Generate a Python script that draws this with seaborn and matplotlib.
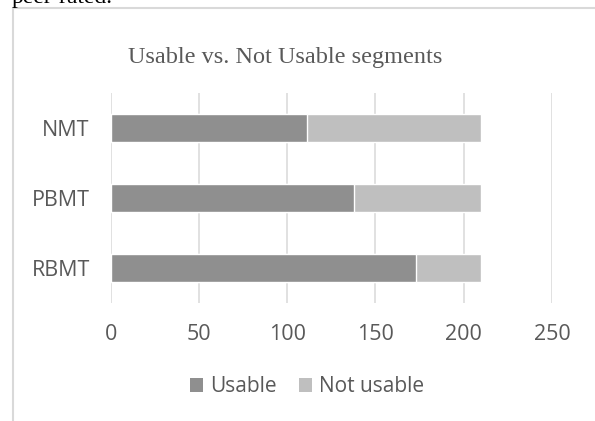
import matplotlib
matplotlib.use("Agg")
import matplotlib.pyplot as plt
from matplotlib.patches import Patch
from matplotlib.lines import Line2D
import pandas as pd
import seaborn as sns

# Segment counts per MT system
systems = ["NMT", "PBMT", "RBMT"]
usable = [111, 138, 173]
not_usable = [99, 72, 37]
x_ticks = [0, 50, 100, 150, 200, 250]

title = "Usable vs. Not Usable segments"
series_names = ["Usable", "Not usable"]

dark = "#8f8f8f"
light = "#bfbfbf"
text_grey = "#595959"
grid_grey = "#d9d9d9"

df = pd.DataFrame({"system": systems, "usable": usable, "not_usable": not_usable})
df["total"] = df["usable"] + df["not_usable"]

sns.set_theme(style="white")
plt.rcParams["font.family"] = ["Open Sans", "DejaVu Sans"]

fig = plt.figure(figsize=(5.95, 4.21), dpi=100)
ax = fig.add_axes([110.7 / 595, 1 - 303 / 421, (552 - 110.7) / 595, (303 - 93) / 421])

# Stacked bars: full length in light grey, usable part in dark grey on top
sns.barplot(data=df, y="system", x="total", order=systems, orient="h",
            color=light, width=0.4, saturation=1, ax=ax, zorder=2)
sns.barplot(data=df, y="system", x="usable", order=systems, orient="h",
            color=dark, width=0.4, saturation=1, ax=ax, zorder=3)

ax.set_xlim(0, 250)
ax.set_ylim(2.5, -0.5)
ax.set_xticks(x_ticks)
ax.set_xticklabels([str(t) for t in x_ticks])
ax.set_xlabel("")
ax.set_ylabel("")
ax.grid(axis="x", color=grid_grey, linewidth=1.1, zorder=0)
ax.grid(axis="y", visible=False)
for s in ax.spines.values():
    s.set_visible(False)
ax.tick_params(axis="x", length=0, pad=15, labelsize=15.5, labelcolor=text_grey)
ax.tick_params(axis="y", length=0, pad=15, labelsize=15.5, labelcolor=text_grey)
ax.set_axisbelow(True)

# Chart title
fig.text(285 / 595, 1 - 58 / 421, title, ha="center", va="center",
         fontsize=17.5, color=text_grey, family=["Liberation Serif"])

# Legend below the plot
handles = [Patch(facecolor=dark, edgecolor="none"), Patch(facecolor=light, edgecolor="none")]
fig.legend(handles, series_names, loc="center", bbox_to_anchor=(307 / 595, 1 - 387 / 421),
           ncol=2, frameon=False, fontsize=15, labelcolor=text_grey,
           handlelength=0.62, handleheight=0.62, handletextpad=0.32,
           columnspacing=1.1, borderpad=0, borderaxespad=0)

# Chart area border (left and top edges)
fig.add_artist(Line2D([13 / 595, 13 / 595], [0, 1 - 7.5 / 421], transform=fig.transFigure,
                      color=grid_grey, linewidth=1.5))
fig.add_artist(Line2D([13 / 595, 1], [1 - 7.5 / 421, 1 - 7.5 / 421], transform=fig.transFigure,
                      color=grid_grey, linewidth=1.5))

# Running text above the chart
fig.text(12 / 595, 1 - 3 / 421, "peer-rated.", ha="left", va="baseline",
         fontsize=17, color="black", family=["Liberation Serif"])

fig.savefig("out.png", dpi=100)
